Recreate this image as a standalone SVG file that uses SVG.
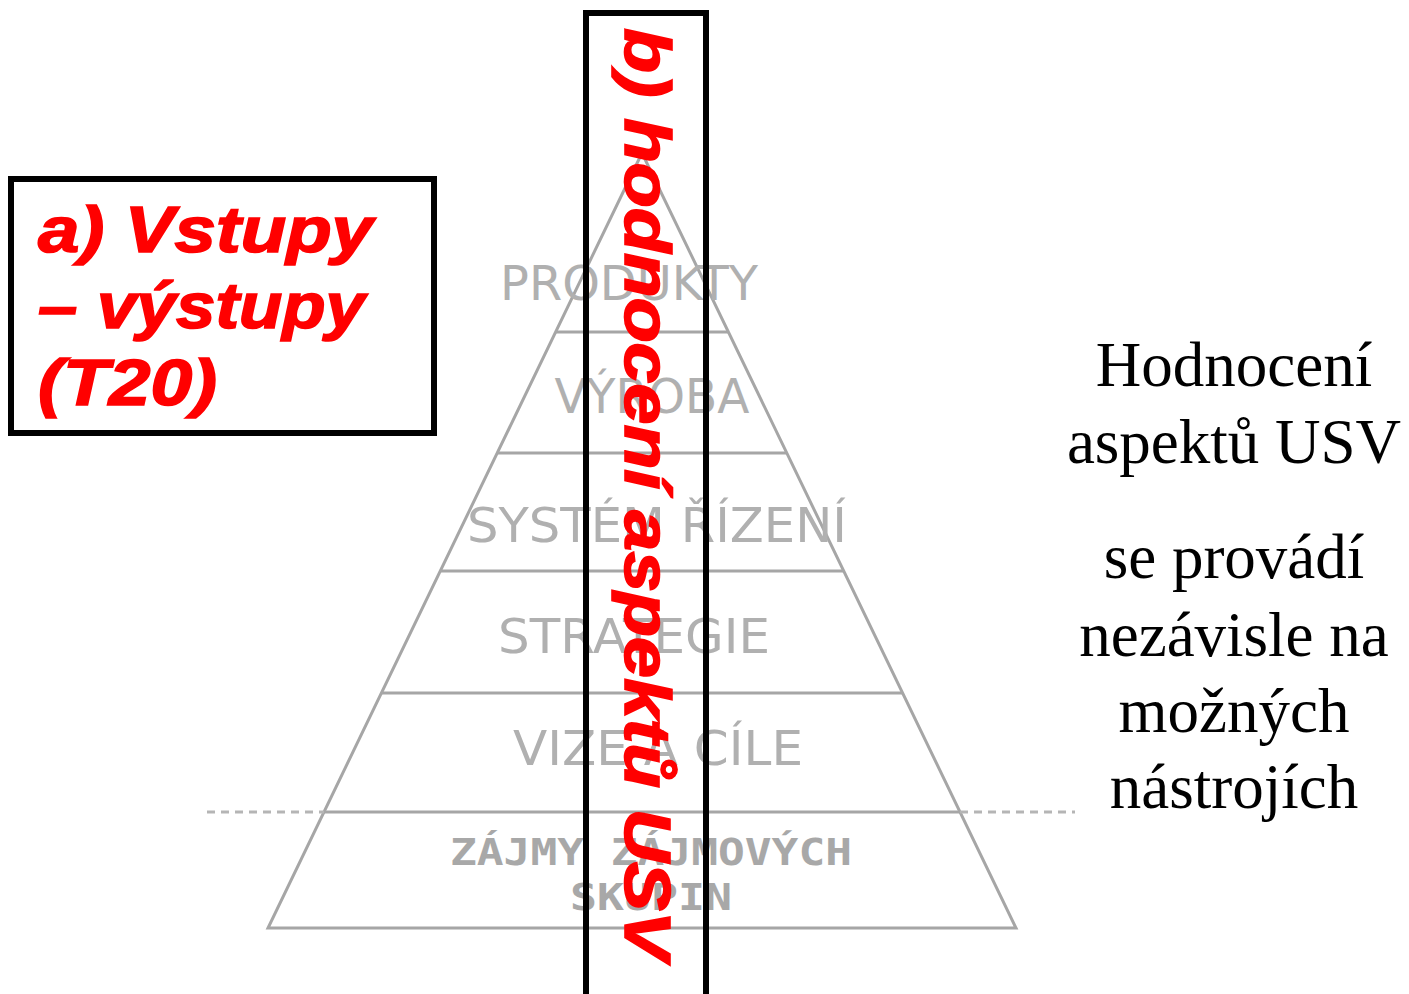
<svg xmlns="http://www.w3.org/2000/svg" width="1409" height="994" viewBox="0 0 1409 994">
  <style>
    .pyr { stroke: #a6a6a6; stroke-width: 3; fill: none; }
    .ext { stroke: #b5b5b5; stroke-width: 3; stroke-dasharray: 8 6; fill: none; }
    .lbl { font-family: "DejaVu Sans", sans-serif; font-size: 48px; fill: #b0b0b0; text-anchor: middle; }
    .lblb { font-family: "DejaVu Sans Mono", monospace; font-weight: bold; font-size: 37px; fill: #a8a8a8; text-anchor: middle; }
    .red { font-family: "Liberation Sans", Arial, sans-serif; font-weight: bold; font-style: italic; font-size: 64px; fill: #ff0000; stroke: #ff0000; stroke-width: 1.6; }
    .box { fill: none; stroke: #000; stroke-width: 6; }
    .note { font-family: "Liberation Serif", "Times New Roman", serif; font-size: 63px; fill: #000; text-anchor: middle; }
  </style>
  <rect width="1409" height="994" fill="#fff"/>

  <g id="pyramid">
    <polygon class="pyr" points="642,153 268,928 1016,928"/>
    <line class="pyr" x1="556" y1="332" x2="728" y2="332"/>
    <line class="pyr" x1="497" y1="453" x2="787" y2="453"/>
    <line class="pyr" x1="440" y1="571" x2="844" y2="571"/>
    <line class="pyr" x1="382" y1="693" x2="902" y2="693"/>
    <line class="pyr" x1="324" y1="812" x2="960" y2="812"/>
    <line class="ext" x1="207" y1="812" x2="324" y2="812"/>
    <line class="ext" x1="960" y1="812" x2="1075" y2="812"/>
    <text class="lbl" x="629" y="300" font-size="47" textLength="258" lengthAdjust="spacingAndGlyphs">PRODUKTY</text>
    <text class="lbl" x="652" y="413" font-size="47" textLength="195" lengthAdjust="spacingAndGlyphs">VÝROBA</text>
    <text class="lbl" x="657" y="542" textLength="380" lengthAdjust="spacingAndGlyphs">SYSTÉM ŘÍZENÍ</text>
    <text class="lbl" x="634" y="653" textLength="272" lengthAdjust="spacingAndGlyphs">STRATEGIE</text>
    <text class="lbl" x="658" y="765" textLength="290" lengthAdjust="spacingAndGlyphs">VIZE A CÍLE</text>
    <text class="lblb" x="651" y="865" textLength="402" lengthAdjust="spacingAndGlyphs">ZÁJMY ZÁJMOVÝCH</text>
    <text class="lblb" x="651" y="910" textLength="162" lengthAdjust="spacingAndGlyphs">SKUPIN</text>
  </g>

  <g id="box-a">
    <rect class="box" x="11" y="179" width="423" height="254" fill="#fff"/>
    <text class="red" x="38" y="252" textLength="335" lengthAdjust="spacingAndGlyphs">a) Vstupy</text>
    <text class="red" x="38" y="328" textLength="327" lengthAdjust="spacingAndGlyphs">– výstupy</text>
    <text class="red" x="38" y="405" textLength="179" lengthAdjust="spacingAndGlyphs">(T20)</text>
  </g>

  <g id="box-b">
    <rect class="box" x="586" y="13" width="120" height="984"/>
    <text class="red" transform="translate(625,28) rotate(90)" x="0" y="0" textLength="932" lengthAdjust="spacingAndGlyphs">b) hodnocení aspektů USV</text>
  </g>

  <g id="note">
    <text class="note" x="1234" y="386">Hodnocení</text>
    <text class="note" x="1234" y="463">aspektů USV</text>
    <text class="note" x="1234" y="578">se provádí</text>
    <text class="note" x="1234" y="656">nezávisle na</text>
    <text class="note" x="1234" y="732">možných</text>
    <text class="note" x="1234" y="808">nástrojích</text>
  </g>
</svg>
